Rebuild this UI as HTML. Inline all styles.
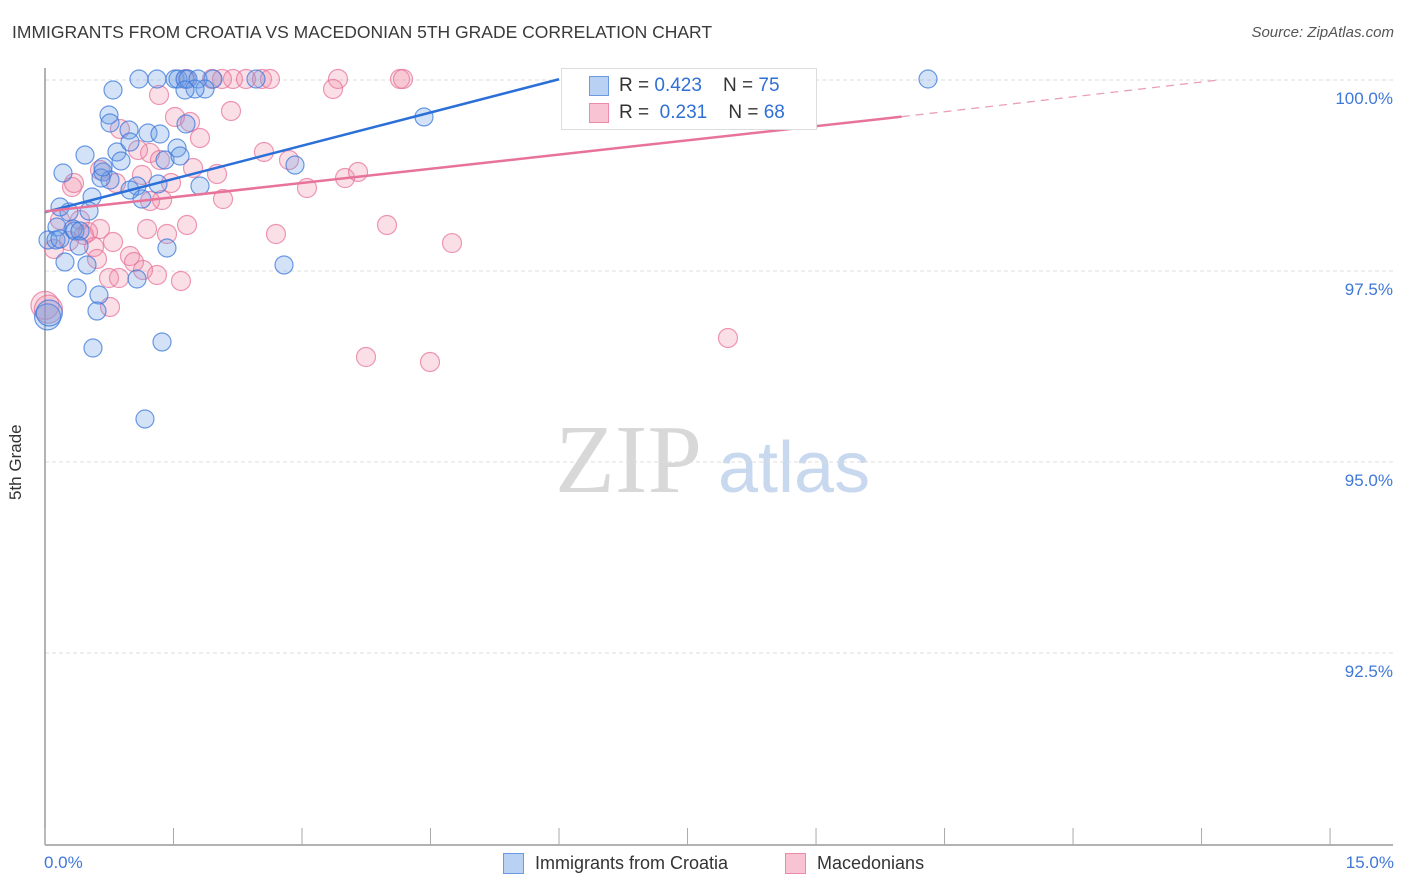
<!DOCTYPE html>
<html><head><meta charset="utf-8"><style>
body{margin:0;background:#fff;font-family:"Liberation Sans",sans-serif;}
#wrap{position:relative;width:1406px;height:892px;overflow:hidden;}
.t{position:absolute;white-space:nowrap;}
</style></head><body>
<div id="wrap">
<div class="t" style="left:12px;top:22px;font-size:17.5px;color:#3a3a3a;">IMMIGRANTS FROM CROATIA VS MACEDONIAN 5TH GRADE CORRELATION CHART</div>
<div class="t" style="right:12px;top:24px;font-size:15px;color:#555;font-style:italic;">Source: ZipAtlas.com</div>
<svg id="svg" width="1406" height="892" style="position:absolute;left:0;top:0">
<text x="555" y="492" font-family="Liberation Serif,serif" font-size="98" fill="#d8d8d8">ZIP</text>
<text x="718" y="492" font-family="Liberation Sans,sans-serif" font-size="72" fill="#c8d8ee">atlas</text>
<g id="grid"></g><g id="axes"></g><g id="pts"></g><g id="lines"></g>
</svg>
<div style="position:absolute;left:561px;top:68px;width:254px;height:60px;border:1px solid #ddd;background:#fff;"></div>
<div style="position:absolute;left:589px;top:76px;width:18px;height:18px;background:#b9d1f3;border:1px solid #6a9ae0;"></div>
<div style="position:absolute;left:589px;top:103px;width:18px;height:18px;background:#f8c4d3;border:1px solid #ec8aa8;"></div>
<div class="t" style="left:619px;top:75px;font-size:19px;color:#333;">R = <span style="color:#2f6fd6">0.423</span>&nbsp;&nbsp;&nbsp; N = <span style="color:#2f6fd6">75</span></div>
<div class="t" style="left:619px;top:102px;font-size:19px;color:#333;">R = &nbsp;<span style="color:#2f6fd6">0.231</span>&nbsp;&nbsp;&nbsp; N = <span style="color:#2f6fd6">68</span></div>
<div class="t" style="left:6px;top:446px;font-size:17px;color:#333;transform:rotate(-90deg);transform-origin:0 0;top:500px;">5th Grade</div>
<div class="t" style="left:44px;top:853px;font-size:17px;color:#3f78d8;">0.0%</div>
<div class="t" style="right:12px;top:853px;font-size:17px;color:#3f78d8;">15.0%</div>
<div style="position:absolute;left:503px;top:853px;width:19px;height:19px;background:#b9d1f3;border:1px solid #6a9ae0;"></div>
<div class="t" style="left:535px;top:853px;font-size:18px;color:#333;">Immigrants from Croatia</div>
<div style="position:absolute;left:785px;top:853px;width:19px;height:19px;background:#f8c4d3;border:1px solid #ec8aa8;"></div>
<div class="t" style="left:817px;top:853px;font-size:18px;color:#333;">Macedonians</div>
</div>
<script>
const yTicks=[100,97.5,95,92.5];
const yTickLabels=["100.0%","97.5%","95.0%","92.5%"];
const xTicks=[0,1.5,3,4.5,6,7.5,9,10.5,12,13.5,15];
const bluePx=[[139,79],[157,79],[175,79],[178,79],[185,79],[188,79],[198,79],[213,79],[256,79],[688,79],[928,79],[113,90],[205,89],[109,115],[110,123],[129,130],[148,133],[186,124],[424,117],[117,152],[85,155],[177,148],[160,134],[130,142],[121,161],[165,160],[180,156],[295,165],[63,173],[103,172],[110,180],[101,178],[137,186],[158,184],[200,186],[92,197],[89,211],[69,212],[142,199],[57,227],[73,229],[75,231],[80,231],[48,240],[56,240],[60,239],[79,246],[167,248],[65,262],[87,265],[137,279],[284,265],[77,288],[99,295],[97,311],[93,348],[162,342],[145,419],[195,89],[185,90],[103,167],[130,190],[60,207]];
const pinkPx=[[159,95],[233,79],[222,79],[212,79],[186,79],[246,79],[262,79],[270,79],[338,79],[333,89],[400,79],[403,79],[731,79],[748,79],[231,111],[175,117],[190,122],[200,138],[264,152],[289,160],[307,188],[345,178],[358,172],[387,225],[452,243],[276,234],[217,174],[193,168],[150,153],[160,160],[138,150],[120,129],[72,187],[74,183],[100,170],[116,183],[142,175],[171,183],[162,200],[147,229],[187,225],[167,234],[223,199],[100,229],[113,242],[84,235],[94,247],[97,259],[130,256],[134,262],[143,270],[157,275],[181,281],[109,278],[119,278],[110,307],[366,357],[430,362],[728,338],[54,249],[60,220],[80,220],[150,201],[88,232],[69,241]];
// convert to data values (x in %, y in %)
const X0=45,XS=85.67,Y0=80,YS=76.4;
const blueX=bluePx.map(p=>+((p[0]-X0)/XS).toFixed(3)), blueY=bluePx.map(p=>+(100-(p[1]-Y0)/YS).toFixed(3));
const pinkX=pinkPx.map(p=>+((p[0]-X0)/XS).toFixed(3)), pinkY=pinkPx.map(p=>+(100-(p[1]-Y0)/YS).toFixed(3));
const bigBlueX=[0.03,0.05], bigBlueY=[96.9,96.95];
const bigPinkX=[0.0,0.04], bigPinkY=[97.05,97.0];
const blueTrend=[[0,98.27],[6.0,100.01]];
const pinkTrend=[[0,98.28],[10.0,99.52]];
const pinkTrendDash=[[10.0,99.52],[13.7,100.0]];
function sx(v){return X0+v*XS;} function sy(v){return Y0+(100-v)*YS;}
const NS="http://www.w3.org/2000/svg";
function mk(tag,attrs,parent){const e=document.createElementNS(NS,tag);for(const k in attrs)e.setAttribute(k,attrs[k]);parent.appendChild(e);return e;}
const grid=document.getElementById('grid'),axes=document.getElementById('axes'),pts=document.getElementById('pts'),lines=document.getElementById('lines'),svg=document.getElementById('svg');
yTicks.forEach((t,i)=>{
 const l=mk('line',{x1:45,x2:1393,y1:sy(t),y2:sy(t),stroke:'#ddd','stroke-dasharray':'4,3'},grid);
 
 
 const tx=mk('text',{x:1393,y:sy(t)+24,'text-anchor':'end','font-size':17,fill:'#3f78d8','font-family':'Liberation Sans,sans-serif'},grid);
 tx.textContent=yTickLabels[i];
 
 
});
const ya=mk('line',{x1:45,x2:45,y1:68,y2:845,stroke:'#999','stroke-width':1.5},axes);


const xa=mk('line',{x1:45,x2:1393,y1:845,y2:845,stroke:'#999','stroke-width':1.5},axes);


xTicks.forEach(t=>{const l=mk('line',{x1:sx(t),x2:sx(t),y1:828,y2:845,stroke:'#aaa'},axes);
 
 });
function dot(x,y,r,blue){const c=mk('circle',{cx:sx(x),cy:sy(y),r:r,fill:blue?'rgba(110,160,230,0.3)':'rgba(240,140,170,0.28)',stroke:blue?'rgba(60,120,220,0.75)':'rgba(230,110,150,0.7)','stroke-width':1.2},pts);return c;}
pinkX.forEach((x,i)=>{const c=dot(x,pinkY[i],9.5,false);
 
 });
bigPinkX.forEach((x,i)=>{const c=dot(x,bigPinkY[i],14,false);
 
 });
blueX.forEach((x,i)=>{const c=dot(x,blueY[i],9,true);
 
 });
bigBlueX.forEach((x,i)=>{const c=dot(x,bigBlueY[i],13,true);
 
 });
function ln(p,color,w,dash){const a={x1:sx(p[0][0]),y1:sy(p[0][1]),x2:sx(p[1][0]),y2:sy(p[1][1]),stroke:color,'stroke-width':w};if(dash)a['stroke-dasharray']=dash;return mk('line',a,lines);}
const l1=ln(blueTrend,'#2b6fd8',2.5);


const l2=ln(pinkTrend,'#e8739a',2.5);


const l3=ln(pinkTrendDash,'#e8a0b8',1.3,'8,6');


</script>
</body></html>
